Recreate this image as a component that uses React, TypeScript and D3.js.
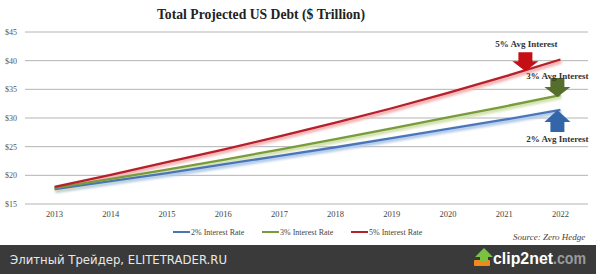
import React from "react";
import * as d3 from "d3";

const years = [2013, 2014, 2015, 2016, 2017, 2018, 2019, 2020, 2021, 2022];
const rate2 = [17.6, 19.0, 20.4, 21.9, 23.4, 24.9, 26.5, 28.1, 29.7, 31.4];
const rate3 = [17.8, 19.4, 21.0, 22.7, 24.5, 26.3, 28.2, 30.1, 32.0, 34.0];
const rate5 = [18.0, 20.1, 22.3, 24.5, 26.8, 29.2, 31.7, 34.4, 37.2, 40.2];
const yTicks = [15, 20, 25, 30, 35, 40, 45];
const seriesNames = ["2% Interest Rate", "3% Interest Rate", "5% Interest Rate"];
const seriesColors = ["#4a76b8", "#7a9a3e", "#b5202a"];
const shadowColors = ["#b3cbeb", "#d2e2ad", "#f2b4b4"];
const arrowColors = ["#3366a8", "#556e2c", "#c40f14"];
const arrowLabels = ["2% Avg Interest", "3% Avg Interest", "5% Avg Interest"];

const W = 596;
const H = 274;

export default function App() {
  const x = d3.scaleBand<number>().domain(years).range([26.5, 588.5]);
  const y = d3.scaleLinear().domain([15, 45]).range([204, 32]);
  const cx = (yr: number) => (x(yr) as number) + x.bandwidth() / 2;
  const data = [rate2, rate3, rate5];
  const line = d3
    .line<number>()
    .x((_, i) => cx(years[i]))
    .y((v) => y(v));

  const interp = (vals: number[], px: number) => {
    const step = x.step();
    const t = (px - cx(years[0])) / step;
    const i = Math.max(0, Math.min(vals.length - 2, Math.floor(t)));
    const f = t - i;
    return vals[i] + (vals[i + 1] - vals[i]) * f;
  };

  const downArrow = (ax: number, tipY: number) => {
    const sw = 7, hw = 13, hh = 10, len = 19;
    return `M${ax - sw},${tipY - len} L${ax + sw},${tipY - len} L${ax + sw},${tipY - hh} L${ax + hw},${tipY - hh} L${ax},${tipY} L${ax - hw},${tipY - hh} L${ax - sw},${tipY - hh} Z`;
  };
  const upArrow = (ax: number, tipY: number) => {
    const sw = 7, hw = 13, hh = 12, len = 22;
    return `M${ax - sw},${tipY + len} L${ax + sw},${tipY + len} L${ax + sw},${tipY + hh} L${ax + hw},${tipY + hh} L${ax},${tipY} L${ax - hw},${tipY + hh} L${ax - sw},${tipY + hh} Z`;
  };

  const redX = cx(2022) - 35;
  const redTip = y(interp(rate5, redX)) + 1;
  const greenX = cx(2022) - 3;
  const greenTip = y(rate3[rate3.length - 1]) + 2;
  const blueX = cx(2022) - 3;
  const blueTip = y(rate2[rate2.length - 1]);

  const serif = "'Liberation Serif', 'DejaVu Serif', serif";
  const legendX = [173, 262, 351];

  return (
    <div style={{ position: "fixed", left: 0, top: 0 }}>
      <svg width={W} height={H} style={{ display: "block" }}>
        <defs>
          <filter id="blur" x="-10%" y="-50%" width="120%" height="200%">
            <feGaussianBlur stdDeviation="1.2" />
          </filter>
        </defs>
        <rect x={0} y={0} width={W} height={H} fill="#ffffff" />
        <text
          x={261}
          y={19}
          textAnchor="middle"
          fontFamily={serif}
          fontWeight="bold"
          fontSize={15}
          fill="#222"
          textLength={208}
          lengthAdjust="spacingAndGlyphs"
        >
          Total Projected US Debt ($ Trillion)
        </text>
        {yTicks.map((t) => (
          <g key={t}>
            <line x1={25} x2={588} y1={y(t)} y2={y(t)} stroke="#b4b4b4" strokeWidth={1} />
            <text x={5} y={y(t) + 3} fontFamily={serif} fontSize={8} fill="#555">
              ${t}
            </text>
          </g>
        ))}
        {years.map((yr) => (
          <text key={yr} x={cx(yr)} y={217} textAnchor="middle" fontFamily={serif} fontSize={8.5} fill="#444">
            {yr}
          </text>
        ))}
        {data.map((vals, i) => (
          <path
            key={"s" + i}
            d={line(vals) as string}
            fill="none"
            stroke={shadowColors[i]}
            strokeWidth={4}
            transform="translate(1,2)"
            filter="url(#blur)"
          />
        ))}
        {data.map((vals, i) => (
          <path key={"l" + i} d={line(vals) as string} fill="none" stroke={seriesColors[i]} strokeWidth={2.3} />
        ))}
        <path d={downArrow(redX, redTip)} fill={arrowColors[2]} />
        <text x={redX + 1} y={47} textAnchor="middle" fontFamily={serif} fontWeight="bold" fontSize={9} fill="#333">
          {arrowLabels[2]}
        </text>
        <path d={downArrow(greenX, greenTip)} fill={arrowColors[1]} />
        <text x={greenX} y={79} textAnchor="middle" fontFamily={serif} fontWeight="bold" fontSize={9} fill="#333">
          {arrowLabels[1]}
        </text>
        <path d={upArrow(blueX, blueTip)} fill={arrowColors[0]} />
        <text x={greenX} y={142} textAnchor="middle" fontFamily={serif} fontWeight="bold" fontSize={9} fill="#333">
          {arrowLabels[0]}
        </text>
        {seriesNames.map((n, i) => (
          <g key={n}>
            <line x1={legendX[i]} x2={legendX[i] + 17} y1={232} y2={232} stroke={seriesColors[i]} strokeWidth={2} />
            <text x={legendX[i] + 18} y={235} fontFamily={serif} fontSize={8} fill="#444">
              {n}
            </text>
          </g>
        ))}
        <text x={513} y={240} fontFamily={serif} fontStyle="italic" fontSize={9} fill="#444">
          Source: Zero Hedge
        </text>
        <rect x={0} y={245} width={W} height={H - 245} fill="#3a3a3a" />
        <text x={10} y={264} fontFamily="'DejaVu Sans', sans-serif" fontSize={13} fill="#e8e8e8" textLength={217} lengthAdjust="spacingAndGlyphs">
          Элитный Трейдер, ELITETRADER.RU
        </text>
        <rect x={474} y={260} width={16} height={6} rx={1} fill="#f08a1c" />
        <path d="M484,248 L493,257 L488,257 L488,262 L480,262 L480,257 L475,257 Z" fill="#7cc242" />
        <text x={493} y={264} fontFamily="'Liberation Sans', Arial, sans-serif" fontWeight="bold" fontSize={16} fill="#ffffff" textLength={60} lengthAdjust="spacingAndGlyphs">
          clip2net
        </text>
        <text x={553} y={264} fontFamily="'Liberation Sans', Arial, sans-serif" fontWeight="bold" fontSize={16} fill="#9a9a9a" textLength={33} lengthAdjust="spacingAndGlyphs">
          .com
        </text>
      </svg>
    </div>
  );
}
